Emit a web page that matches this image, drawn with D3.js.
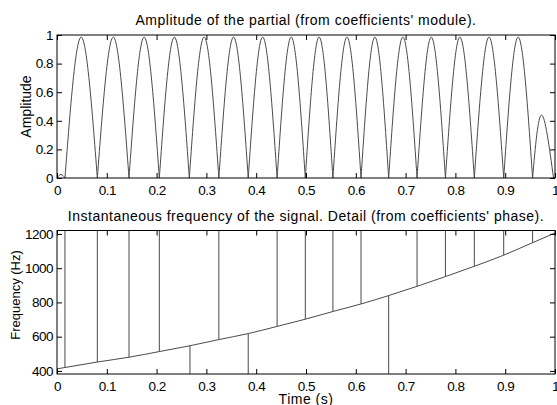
<!DOCTYPE html>
<html><head><meta charset="utf-8">
<script src="https://cdn.jsdelivr.net/npm/d3@7"></script>
<style>
body{margin:0;background:#fff;}
svg{display:block;font-family:"Liberation Sans",Arial,Helvetica,sans-serif;}
</style></head>
<body>
<svg id="chart" width="557" height="405"></svg>
<script>
// ---- data ----
const xTicks = [0,0.1,0.2,0.3,0.4,0.5,0.6,0.7,0.8,0.9,1];
const xTickLabels = ["0","0.1","0.2","0.3","0.4","0.5","0.6","0.7","0.8","0.9","1"];
const ampTicks = [0,0.2,0.4,0.6,0.8,1];
const ampTickLabels = ["0","0.2","0.4","0.6","0.8","1"];
const freqTicks = [400,600,800,1000,1200];
const freqTickLabels = ["400","600","800","1000","1200"];

// amplitude: alternating zero / peak points of each lobe
const ampT = [0,0.008,0.016, 0.0485,0.081, 0.113,0.1446, 0.175,0.2055, 0.2356,0.2657,
  0.2954,0.325, 0.3545,0.384, 0.413,0.442, 0.4703,0.4986, 0.5263,0.554, 0.5823,0.6105,
  0.6383,0.666, 0.6945,0.723, 0.7515,0.780, 0.809,0.838, 0.8675,0.897, 0.926,0.955, 0.973,0.997];
const ampV = [0,0.025,0, 0.985,0, 0.985,0, 0.985,0, 0.985,0,
  0.985,0, 0.985,0, 0.985,0, 0.985,0, 0.985,0, 0.985,0,
  0.985,0, 0.985,0, 0.985,0, 0.985,0, 0.985,0, 0.985,0, 0.44,0];

// instantaneous frequency
const freqT = [0,0.016,0.081,0.1446,0.2055,0.267,0.325,0.384,0.442,0.4986,0.554,0.6105,0.666,0.723,0.780,0.838,0.897,0.955,1.0];
const freqV = [412,420,452,480,513,547,583,618,660,702,747,791,840,894,951,1011,1076,1149,1205];
// phase-wrap spikes at those times (end value, null = none)
const spikeEnd = [null,1220,1220,1220,1220,382,1220,382,1220,1220,1220,1220,382,1220,1220,1220,1220,1220,null];

// ---- layout ----
const svg = d3.select("#chart");
const L = 57, R = 555;
const top1 = 35, bot1 = 178, top2 = 230.5, bot2 = 374;
const TICK_FS = 13.5, TL = 5;
const LINE = "#4a4a4a";

const x = d3.scaleLinear().domain([0,1]).range([L,R]);
const yA = d3.scaleLinear().domain([0,1]).range([bot1,top1]);
const yF = d3.scaleLinear().domain([382,1220]).range([bot2,top2]);

const defs = svg.append("defs");
defs.append("clipPath").attr("id","c1").append("rect").attr("x",L).attr("y",top1).attr("width",R-L).attr("height",bot1-top1);
defs.append("clipPath").attr("id","c2").append("rect").attr("x",L).attr("y",top2).attr("width",R-L).attr("height",bot2-top2);

function frame(y, yt, ytl, topY, botY){
  const g = svg.append("g");
  g.append("g").attr("transform",`translate(0,${botY})`)
    .call(d3.axisBottom(x).tickValues(xTicks).tickFormat((d,i)=>xTickLabels[i]).tickSizeInner(-TL).tickSizeOuter(0).tickPadding(7));
  g.append("g").attr("transform",`translate(0,${topY})`)
    .call(d3.axisTop(x).tickValues(xTicks).tickFormat("").tickSizeInner(-TL).tickSizeOuter(0));
  g.append("g").attr("transform",`translate(${L},0)`)
    .call(d3.axisLeft(y).tickValues(yt).tickFormat((d,i)=>ytl[i]).tickSizeInner(-TL).tickSizeOuter(0).tickPadding(4));
  g.append("g").attr("transform",`translate(${R},0)`)
    .call(d3.axisRight(y).tickValues(yt).tickFormat("").tickSizeInner(-TL).tickSizeOuter(0));
  g.selectAll(".domain").remove();
  g.selectAll(".tick line").attr("stroke","#000").attr("stroke-width",1);
  g.selectAll("text").attr("font-size",TICK_FS).attr("letter-spacing","-0.5px").attr("fill","#000").attr("font-family",null);
  g.append("rect").attr("x",L).attr("y",topY).attr("width",R-L).attr("height",botY-topY)
    .attr("fill","none").attr("stroke","#000").attr("stroke-width",1);
  return g;
}

// ---- top panel ----
const p1 = svg.append("g").attr("clip-path","url(#c1)");
const lobeLine = d3.line().x(d=>x(d[0])).y(d=>yA(d[1])).curve(d3.curveNatural);
for (let i = 0; i + 2 < ampT.length; i += 2) {
  const seg = [0,1,2].map(k => [ampT[i+k], ampV[i+k]]);
  p1.append("path").attr("d", lobeLine(seg)).attr("fill","none").attr("stroke",LINE).attr("stroke-width",1);
}
frame(yA, ampTicks, ampTickLabels, top1, bot1);

// ---- bottom panel ----
const p2 = svg.append("g").attr("clip-path","url(#c2)");
const fLine = d3.line().x((d,i)=>x(freqT[i])).y((d,i)=>yF(freqV[i])).curve(d3.curveMonotoneX);
p2.append("path").attr("d", fLine(freqV)).attr("fill","none").attr("stroke",LINE).attr("stroke-width",1);
freqT.forEach((t,i)=>{
  if (spikeEnd[i] === null) return;
  p2.append("line").attr("x1",x(t)).attr("x2",x(t)).attr("y1",yF(freqV[i])).attr("y2",yF(spikeEnd[i]))
    .attr("stroke",LINE).attr("stroke-width",1);
});
frame(yF, freqTicks, freqTickLabels, top2, bot2);

// ---- titles and labels ----
const cx = (L+R)/2;
function label(txt, fs, ls){
  return svg.append("text").attr("text-anchor","middle").attr("font-size",fs).attr("letter-spacing",ls).text(txt);
}
label("Amplitude of the partial (from coefficients' module).", 14, "0.5px").attr("x",cx).attr("y",25);
label("Instantaneous frequency of the signal. Detail (from coefficients' phase).", 14, "0.5px").attr("x",cx).attr("y",220.5);
label("Time (s)", 14, "0.5px").attr("x",cx).attr("y",403.5);
label("Amplitude", 14, "0px").attr("transform",`translate(31,106.5) rotate(-90)`);
label("Frequency (Hz)", 13, "0px").attr("transform",`translate(20,295) rotate(-90)`);
</script>
</body></html>
